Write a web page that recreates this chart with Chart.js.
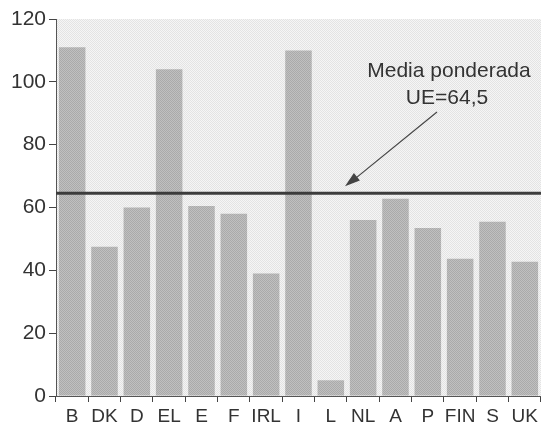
<!DOCTYPE html>
<html>
<head>
<meta charset="utf-8">
<script src="https://cdn.jsdelivr.net/npm/chart.js@4.4.0/dist/chart.umd.min.js"></script>
<style>
  html, body { margin: 0; padding: 0; background: #fff; }
  #wrap { width: 541px; height: 424px; }
</style>
</head>
<body>
<div id="wrap"><canvas id="myChart" width="541" height="424"></canvas></div>
<script>
// data
const countries = ['B', 'DK', 'D', 'EL', 'E', 'F', 'IRL', 'I', 'L', 'NL', 'A', 'P', 'FIN', 'S', 'UK'];
const values = [111, 47.5, 60, 104, 60.5, 58, 39, 110, 5, 56, 62.8, 53.5, 43.7, 55.5, 42.7];
const average = 64.5;
const yTicks = [0, 20, 40, 60, 80, 100, 120];
const noteLines = ['Media ponderada', 'UE=64,5'];

// little dithered textures like the scanned print
function makePattern(a, b) {
  const c = document.createElement('canvas');
  c.width = 2; c.height = 2;
  const g = c.getContext('2d');
  g.fillStyle = a; g.fillRect(0, 0, 2, 2);
  g.fillStyle = b; g.fillRect(0, 0, 1, 1); g.fillRect(1, 1, 1, 1);
  return g.createPattern(c, 'repeat');
}
const barFill = makePattern('#c0c0c0', '#aaaaaa');
const bgFill = makePattern('#f5f5f5', '#e3e3e3');

const plotBackground = {
  id: 'plotBackground',
  beforeDraw(chart) {
    const { ctx, chartArea: a } = chart;
    ctx.save();
    ctx.fillStyle = bgFill;
    ctx.fillRect(a.left, a.top, a.right - a.left, a.bottom - a.top);
    ctx.restore();
  }
};

const averageLine = {
  id: 'averageLine',
  afterDatasetsDraw(chart) {
    const { ctx, chartArea: a, scales } = chart;
    const y = scales.y.getPixelForValue(average);
    ctx.save();
    ctx.strokeStyle = '#3c3c3c';
    ctx.lineWidth = 3;
    ctx.beginPath();
    ctx.moveTo(a.left, y);
    ctx.lineTo(a.right, y);
    ctx.stroke();

    // note + arrow
    ctx.fillStyle = '#333';
    ctx.font = '21px "Liberation Sans", Arial, sans-serif';
    ctx.textAlign = 'center';
    ctx.textBaseline = 'middle';
    ctx.fillText(noteLines[0], 449, 71);
    ctx.fillText(noteLines[1], 447, 98);

    const x0 = 437, y0 = 112, x1 = 345, y1 = y - 7;
    ctx.strokeStyle = '#444';
    ctx.lineWidth = 1.2;
    ctx.beginPath();
    ctx.moveTo(x0, y0);
    ctx.lineTo(x1 + 8, y1 - 6);
    ctx.stroke();
    const ang = Math.atan2(y1 - y0, x1 - x0);
    ctx.fillStyle = '#444';
    ctx.beginPath();
    ctx.moveTo(x1, y1);
    ctx.lineTo(x1 - 16 * Math.cos(ang - 0.3), y1 - 16 * Math.sin(ang - 0.3));
    ctx.lineTo(x1 - 16 * Math.cos(ang + 0.3), y1 - 16 * Math.sin(ang + 0.3));
    ctx.closePath();
    ctx.fill();
    ctx.restore();
  }
};

var ctx = document.getElementById('myChart').getContext('2d');
var chart = new Chart(ctx, {
  type: 'bar',
  data: {
    labels: countries,
    datasets: [{
      data: values,
      backgroundColor: barFill,
      borderWidth: 0,
      categoryPercentage: 1,
      barPercentage: 0.82
    }]
  },
  options: {
    responsive: false,
    animation: false,
    devicePixelRatio: 1,
    layout: { padding: { top: 19, right: 0, left: 0, bottom: 0 } },
    plugins: { legend: { display: false }, tooltip: { enabled: false } },
    scales: {
      x: {
        grid: { display: true, drawOnChartArea: false, drawTicks: true, tickLength: 6, color: '#444' },
        border: { display: true, color: '#555', width: 1 },
        ticks: {
          color: '#333',
          padding: 3,
          maxRotation: 0,
          autoSkip: false,
          font: { family: '"Liberation Sans", Arial, sans-serif', size: 19 }
        },
        afterFit(scale) { scale.height = 28; }
      },
      y: {
        min: 0,
        max: 120,
        afterBuildTicks(scale) { scale.ticks = yTicks.map(v => ({ value: v })); },
        grid: { display: true, drawOnChartArea: false, drawTicks: true, tickLength: 7, color: '#444' },
        border: { display: true, color: '#555', width: 1 },
        ticks: {
          color: '#333',
          padding: 3,
          font: { family: '"Liberation Sans", Arial, sans-serif', size: 21 }
        },
        afterFit(scale) { scale.width = 56; }
      }
    }
  },
  plugins: [plotBackground, averageLine]
});
</script>
</body>
</html>
